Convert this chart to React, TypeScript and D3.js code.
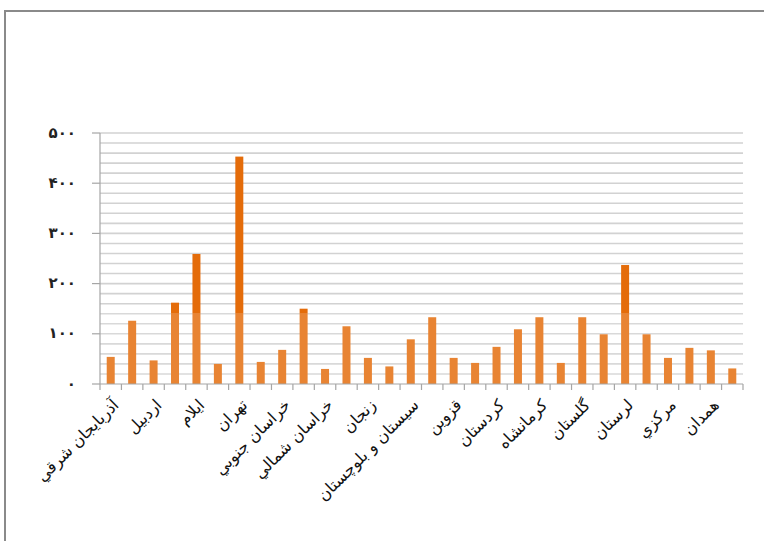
import React from "react";
import * as d3 from "d3";

const categories = [
  "آذربایجان شرقي", "آذربایجان غربي", "اردبيل", "اصفهان", "ايلام", "بوشهر",
  "تهران", "چهارمحال و بختياري", "خراسان جنوبي", "خراسان رضوي", "خراسان شمالي", "خوزستان",
  "زنجان", "سمنان", "سيستان و بلوچستان", "فارس", "قزوين", "قم",
  "کردستان", "کرمان", "کرمانشاه", "کهگيلويه و بويراحمد", "گلستان", "گيلان",
  "لرستان", "مازندران", "مرکزي", "هرمزگان", "همدان", "يزد",
];
const values = [
  54, 126, 47, 162, 259, 40,
  453, 44, 68, 150, 30, 115,
  52, 35, 89, 133, 52, 42,
  74, 109, 133, 42, 133, 99,
  237, 99, 52, 72, 67, 31,
];
const yTickValues = [0, 100, 200, 300, 400, 500];
const yTickLabels = ["۰", "۱۰۰", "۲۰۰", "۳۰۰", "۴۰۰", "۵۰۰"];
const gridValues = d3.range(20, 501, 20);

export default function App() {
  const W = 764, H = 541;
  const left = 100, right = 743, top = 133, bottom = 384;
  const y = d3.scaleLinear().domain([0, 500]).range([bottom, top]);
  const x = d3
    .scaleBand<string>()
    .domain(categories)
    .range([left, right])
    .paddingInner(0.627)
    .paddingOuter(0.3135);
  const bw = x.bandwidth();
  const boundaries = d3.range(0, categories.length + 1).map((i) => left + (i * (right - left)) / categories.length);

  return (
    <svg
      width={W}
      height={H}
      style={{ position: "absolute", left: 0, top: 0, background: "#fff", overflow: "hidden" }}
      fontFamily="DejaVu Sans, sans-serif"
    >
      <line x1={5} x2={W} y1={11} y2={11} stroke="#8a8a8a" strokeWidth={2} />
      <line x1={5} x2={5} y1={10} y2={H} stroke="#8a8a8a" strokeWidth={2} />
      {gridValues.map((v) => (
        <line key={"g" + v} x1={left} x2={right} y1={y(v)} y2={y(v)} stroke="#d2d2d2" strokeWidth={1.6} />
      ))}
      {values.map((v, i) => (
        <rect key={"b" + i} x={x(categories[i])} y={y(v)} width={bw} height={bottom - y(v)} fill="#e46c0a" />
      ))}
      <rect x={90} y={313} width={680} height={H - 313} fill="#fff" opacity={0.17} />
      <line x1={left} x2={left} y1={top} y2={bottom} stroke="#a6a6a6" strokeWidth={1.2} />
      <line x1={left} x2={right} y1={bottom} y2={bottom} stroke="#a6a6a6" strokeWidth={1.2} />
      {yTickValues.map((v) => (
        <line key={"yt" + v} x1={left - 8} x2={left} y1={y(v)} y2={y(v)} stroke="#a6a6a6" strokeWidth={1.2} />
      ))}
      {boundaries.map((bx, i) => (
        <line key={"xt" + i} x1={bx} x2={bx} y1={bottom} y2={bottom + 6} stroke="#a6a6a6" strokeWidth={1.2} />
      ))}
      {yTickValues.map((v, i) => (
        <text
          key={"yl" + v}
          x={76}
          y={y(v)}
          textAnchor="end"
          dominantBaseline="middle"
          fontSize={15}
          fontWeight="bold"
          fill="#222"
        >
          {yTickLabels[i]}
        </text>
      ))}
      {categories.map((c, i) =>
        i % 2 === 0 ? (
          <text
            key={"xl" + i}
            transform={`translate(${(x(c) as number) + bw / 2 + 9},${bottom + 22}) rotate(-45)`}
            textAnchor="end"
            fontSize={16}
            fill="#111"
          >
            {c}
          </text>
        ) : null
      )}
    </svg>
  );
}
